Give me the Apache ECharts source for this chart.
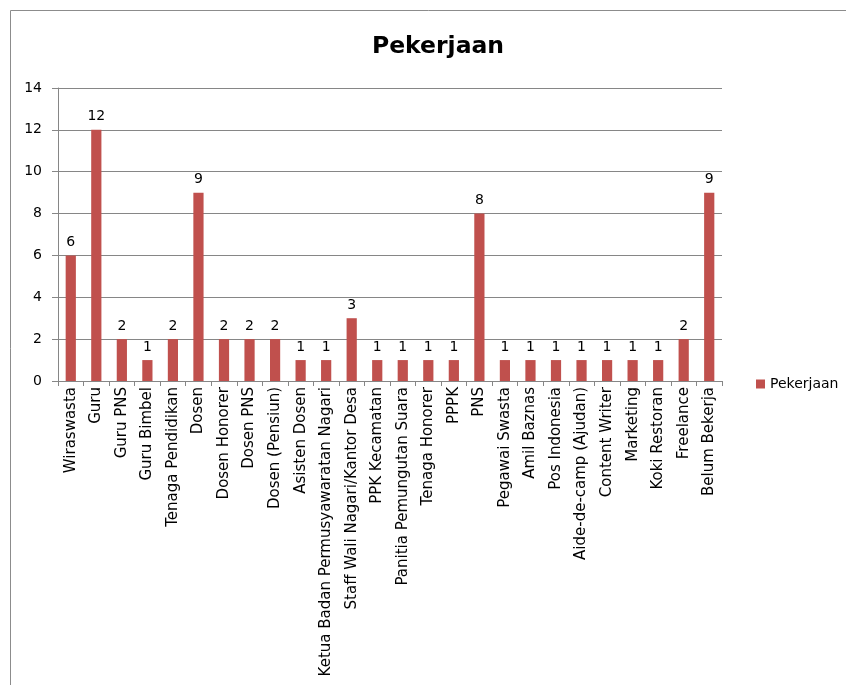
<!DOCTYPE html>
<html><head><meta charset="utf-8">
<script src="https://cdn.jsdelivr.net/npm/echarts@6/dist/echarts.min.js"></script>
<style>html,body{margin:0;padding:0;background:#fff}#c{width:846px;height:685px}</style>
</head><body><div id="c"></div>
<script>
const categories = ["Wiraswasta","Guru","Guru PNS","Guru Bimbel","Tenaga Pendidikan","Dosen","Dosen Honorer","Dosen PNS","Dosen (Pensiun)","Asisten Dosen","Ketua Badan Permusyawaratan Nagari","Staff Wali Nagari/Kantor Desa","PPK Kecamatan","Panitia Pemungutan Suara","Tenaga Honorer","PPPK","PNS","Pegawai Swasta","Amil Baznas","Pos Indonesia","Aide-de-camp (Ajudan)","Content Writer","Marketing","Koki Restoran","Freelance","Belum Bekerja"];
const values = [6,12,2,1,2,9,2,2,2,1,1,3,1,1,1,1,8,1,1,1,1,1,1,1,2,9];
const seriesName = "Pekerjaan";
const yTicks = [0,2,4,6,8,10,12,14];

const chart = echarts.init(document.getElementById('c'));
const font = "DejaVu Sans";
chart.setOption({
  animation: false,
  textStyle: {fontFamily: font},
  title: {text: "Pekerjaan", left: 433, top: 30, textAlign: 'center',
    textStyle: {fontSize: 23.5, fontWeight: 'bold', color: '#000', fontFamily: font}},
  graphic: [{type: 'rect', shape: {x: 10.5, y: 10.5, width: 1000, height: 1000},
    style: {fill: 'none', stroke: '#8c8c8c', lineWidth: 1}, silent: true}],
  legend: {data: [seriesName], left: 751, top: 372, itemWidth: 9, itemHeight: 9, itemGap: 6,
    icon: 'rect', textStyle: {fontSize: 14, color: '#000', fontFamily: font}},
  grid: {left: 58, right: 124, top: 88, bottom: 304, containLabel: false},
  xAxis: {type: 'category', data: categories,
    axisLine: {lineStyle: {color: '#868686'}},
    axisTick: {show: true, length: 5, lineStyle: {color: '#868686'}},
    axisLabel: {rotate: 90, interval: 0, fontSize: 15, color: '#000', margin: 6, fontFamily: font}},
  yAxis: {type: 'value', min: 0, max: 14, interval: 2,
    axisLine: {show: true, lineStyle: {color: '#868686'}},
    axisTick: {show: true, length: 6, lineStyle: {color: '#868686'}},
    axisLabel: {fontSize: 14, color: '#000', margin: 16, fontFamily: font},
    splitLine: {lineStyle: {color: '#868686'}}},
  series: [{name: seriesName, type: 'bar', data: values, barWidth: '40%',
    itemStyle: {color: '#C0504D'},
    label: {show: true, position: 'top', fontSize: 14, color: '#000', distance: 6, fontFamily: font}}]
});
</script></body></html>
